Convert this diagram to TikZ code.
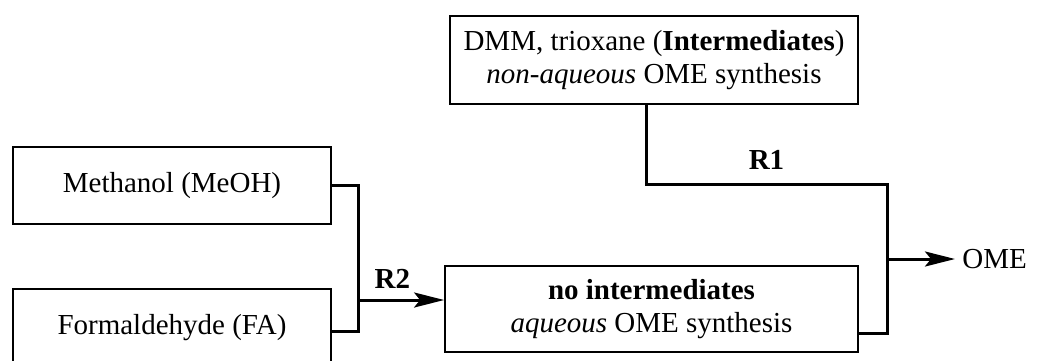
\documentclass[tikz,border=0pt]{standalone}
\usepackage{fontspec}
\setmainfont{Liberation Serif}
\usetikzlibrary{arrows.meta,positioning}

\tikzset{
  stepbox/.style={draw,line width=0.9pt,align=center,inner sep=0pt},
  flow/.style={line width=1.5pt},
  flowarrow/.style={flow,-{Stealth[length=15pt,width=7.5pt,inset=3pt]}},
  rlabel/.style={font=\fontsize{14.5}{16.5}\selectfont\bfseries}
}

\begin{document}
\begin{tikzpicture}[x=0.5pt,y=-0.5pt,font=\fontsize{14.5}{16.5}\selectfont]
  \useasboundingbox (0,0) rectangle (1037,360);
  % feed boxes
  \node[stepbox,minimum width=159pt,minimum height=38.5pt] (meoh) at (172,185.5) {Methanol (MeOH)};
  \node[stepbox,minimum width=159pt,minimum height=38.5pt] (fa) at (172,327.5) {Formaldehyde (FA)};
  % synthesis routes
  \node[stepbox,minimum width=204pt,minimum height=44pt] (inter) at (654,60)
    {DMM, trioxane (\textbf{Intermediates})\\\textit{non-aqueous} OME synthesis};
  \node[stepbox,minimum width=206.5pt,minimum height=43pt] (noint) at (651.5,309)
    {\textbf{no intermediates}\\\textit{aqueous} OME synthesis};
  \node[anchor=west,inner sep=3.5pt] (ome) at (955,259) {OME};
  % junction points
  \coordinate (feedjoin) at (358,300);
  \coordinate (r1corner) at (887,184);
  \coordinate (outjoin) at (887,259);
  % route R2
  \draw[flow] (meoh.east) -| (feedjoin);
  \draw[flow] ([yshift=-2pt]fa.east) -| (feedjoin);
  \draw[flowarrow] (feedjoin) -- (feedjoin -| noint.west)
    node[pos=0.4,above=1.5pt,rlabel] {R2};
  % route R1 and product
  \draw[flow] ([xshift=-4pt]inter.south) |- node[pos=0.75,above=3pt,rlabel] {R1} (r1corner) -- (outjoin);
  \draw[flow] ([yshift=-12pt]noint.east) -| (outjoin);
  \draw[flowarrow] (outjoin) -- (ome);
\end{tikzpicture}
\end{document}
